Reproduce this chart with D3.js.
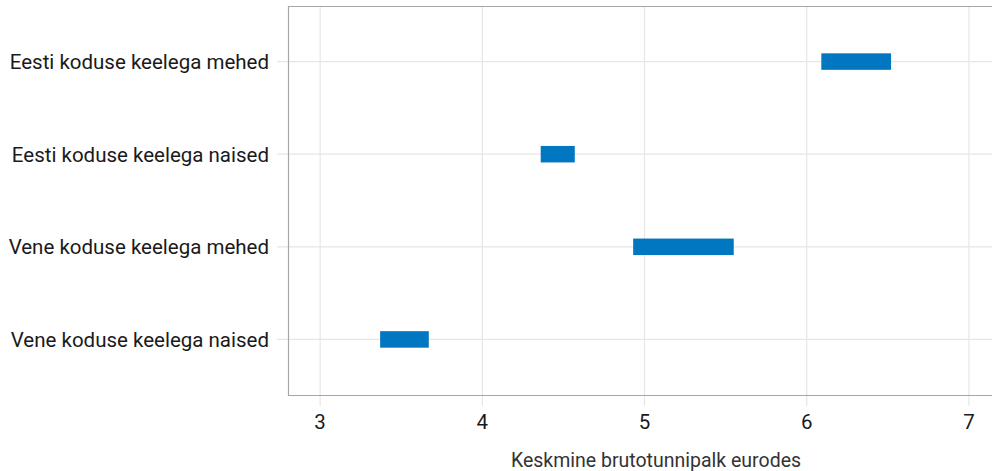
<!DOCTYPE html>
<html>
<head>
<meta charset="utf-8">
<script src="https://cdn.jsdelivr.net/npm/d3@7"></script>
<style>
  body { margin: 0; background: #fff; }
  text { font-family: Roboto, "Noto Sans", sans-serif; }
</style>
</head>
<body>
<div id="chart"></div>
<script>
var width = 992,
    height = 471,
    margin = {top: 6, right: 2, bottom: 76, left: 288};

// groups, top to bottom
var groups = ["Eesti koduse keelega mehed", "Eesti koduse keelega naised",
              "Vene koduse keelega mehed", "Vene koduse keelega naised"];
var lowValues  = [6.09, 4.36, 4.93, 3.37];
var highValues = [6.52, 4.57, 5.55, 3.67];
var xTicks = [3, 4, 5, 6, 7];
var xTitle = "Keskmine brutotunnipalk eurodes";

var svg = d3.select("#chart").append("svg")
    .attr("width", width)
    .attr("height", height);

var x = d3.scaleLinear()
    .domain([2.802, 7.13])
    .range([margin.left, width - margin.right]);

var pb = height - margin.bottom;   // panel bottom

var y = d3.scalePoint()
    .domain(groups)
    .range([margin.top, pb])
    .padding(0.6);

var grid = svg.append("g");

// vertical grid lines (run a bit below panel like ticks)
grid.selectAll("line.vx")
  .data(xTicks)
  .enter().append("line")
    .attr("x1", d => x(d)).attr("x2", d => x(d))
    .attr("y1", margin.top).attr("y2", pb + 11)
    .style("stroke", "#e6e6e6").style("stroke-width", 1.2);

// horizontal grid lines (stick out left of panel)
grid.selectAll("line.hy")
  .data(groups)
  .enter().append("line")
    .attr("x1", margin.left - 11).attr("x2", width)
    .attr("y1", d => y(d)).attr("y2", d => y(d))
    .style("stroke", "#e6e6e6").style("stroke-width", 1.2);

// panel border: left, top, bottom
svg.append("path")
    .attr("d", "M" + width + "," + (margin.top + 0.5) + "H" + (margin.left + 0.5) +
               "V" + (pb + 0.5) + "H" + width)
    .style("fill", "none").style("stroke", "#a6a6a6").style("stroke-width", 1.2);

var data = groups.map((g, i) => ({group: g, lo: lowValues[i], hi: highValues[i]}));

var barH = 16.5;
svg.selectAll("rect.bar")
  .data(data)
  .enter().append("rect")
    .attr("class", "bar")
    .attr("x", d => x(d.lo))
    .attr("width", d => x(d.hi) - x(d.lo))
    .attr("y", d => y(d.group) - barH / 2)
    .attr("height", barH)
    .style("fill", "#0176c1");

// x tick labels
svg.selectAll("text.xt")
  .data(xTicks)
  .enter().append("text")
    .attr("x", d => x(d))
    .attr("y", 429)
    .attr("text-anchor", "middle")
    .style("font-size", "20.5px")
    .style("fill", "#1a1a1a")
    .text(d => d);

// y labels
svg.selectAll("text.yl")
  .data(groups)
  .enter().append("text")
    .attr("x", 269)
    .attr("y", d => y(d))
    .attr("dy", "0.36em")
    .attr("text-anchor", "end")
    .style("font-size", "20.5px")
    .style("fill", "#1a1a1a")
    .text(d => d);

// axis title
svg.append("text")
    .attr("x", 656)
    .attr("y", 467)
    .attr("text-anchor", "middle")
    .style("font-size", "19.5px")
    .style("fill", "#333")
    .text(xTitle);
</script>
</body>
</html>
